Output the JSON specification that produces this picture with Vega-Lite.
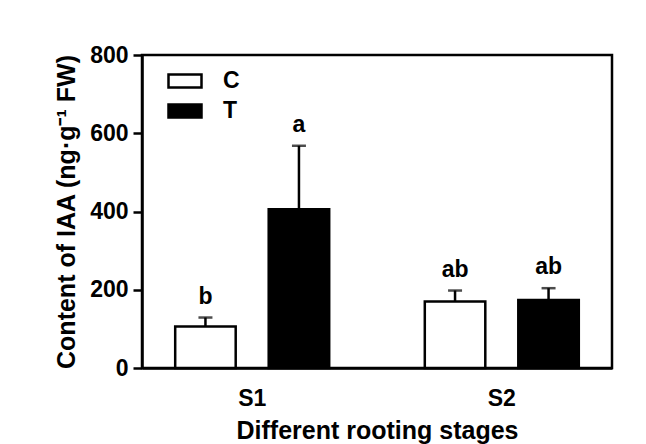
{
  "$schema": "https://vega.github.io/schema/vega-lite/v6.json",
  "width": 470,
  "height": 313,
  "autosize": {"type": "none"},
  "padding": {"left": 142, "top": 55, "right": 34, "bottom": 76},
  "background": "white",
  "config": {
    "font": "Liberation Sans",
    "view": {"stroke": "black", "strokeWidth": 2.5},
    "axis": {
      "labelFont": "Liberation Sans",
      "labelFontWeight": "bold",
      "labelFontSize": 23,
      "labelColor": "black",
      "titleFont": "Liberation Sans",
      "titleFontWeight": "bold",
      "titleFontSize": 25,
      "titleColor": "black",
      "domainColor": "black",
      "domainWidth": 2.5,
      "tickColor": "black",
      "tickWidth": 2.5,
      "grid": false
    }
  },
  "data": {
    "values": [
      {"stage": "S1", "group": "C", "mean": 106, "err": 129, "letter": "b"},
      {"stage": "S1", "group": "T", "mean": 406, "err": 568, "letter": "a"},
      {"stage": "S2", "group": "C", "mean": 170, "err": 198, "letter": "ab"},
      {"stage": "S2", "group": "T", "mean": 174, "err": 204, "letter": "ab"}
    ]
  },
  "encoding": {
    "x": {
      "field": "stage",
      "type": "nominal",
      "scale": {"paddingInner": 0.383, "paddingOuter": 0.133},
      "axis": {"title": "Different rooting stages", "labelAngle": 0, "ticks": false, "labelPadding": 19, "titlePadding": 8}
    },
    "xOffset": {"field": "group", "type": "nominal", "scale": {"paddingInner": 0.353}}
  },
  "layer": [
    {
      "mark": {"type": "rule", "stroke": "black", "strokeWidth": 2.5},
      "encoding": {
        "y": {"field": "mean", "type": "quantitative"},
        "y2": {"field": "err"}
      }
    },
    {
      "mark": {"type": "tick", "color": "black", "size": 14, "thickness": 2.5, "orient": "horizontal"},
      "encoding": {
        "y": {"field": "err", "type": "quantitative"}
      }
    },
    {
      "mark": {"type": "bar", "stroke": "black", "strokeWidth": 2.5},
      "encoding": {
        "y": {
          "field": "mean",
          "type": "quantitative",
          "scale": {"domain": [0, 800], "nice": false},
          "axis": {"title": "Content of IAA (ng·g⁻¹ FW)", "values": [0, 200, 400, 600, 800], "tickSize": 9, "labelPadding": 5, "titlePadding": 10}
        },
        "fill": {
          "field": "group",
          "type": "nominal",
          "scale": {"domain": ["C", "T"], "range": ["white", "black"]},
          "legend": {
            "title": null,
            "orient": "none",
            "legendX": 25,
            "legendY": 8,
            "symbolType": "M-1,-0.4L1,-0.4L1,0.4L-1,0.4Z",
            "symbolSize": 1089,
            "symbolStrokeColor": "black",
            "symbolStrokeWidth": 2.5,
            "labelFont": "Liberation Sans",
            "labelFontWeight": "bold",
            "labelFontSize": 23,
            "labelColor": "black",
            "labelOffset": 20,
            "rowPadding": 0,
            "padding": 0
          }
        }
      }
    },
    {
      "mark": {"type": "text", "font": "Liberation Sans", "fontWeight": "bold", "fontSize": 23, "color": "black", "baseline": "alphabetic", "dy": -14},
      "encoding": {
        "y": {"field": "err", "type": "quantitative"},
        "text": {"field": "letter"}
      }
    }
  ]
}
